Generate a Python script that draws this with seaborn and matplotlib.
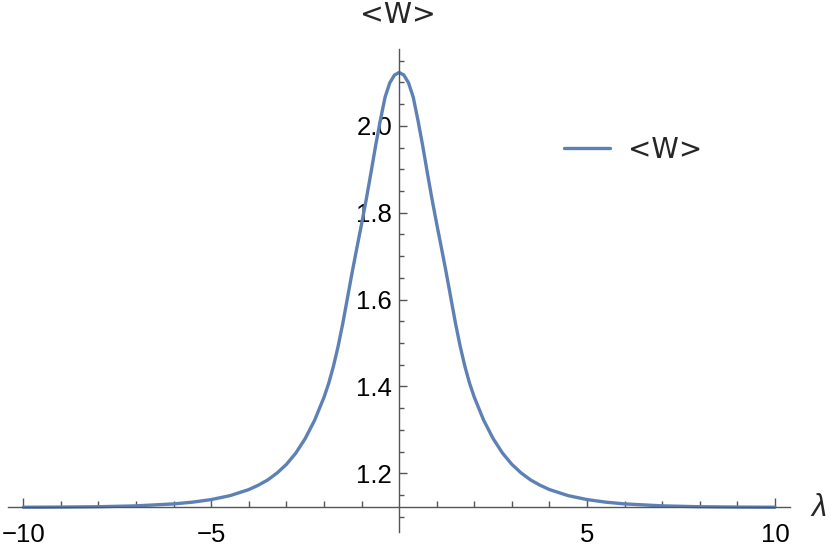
import matplotlib
matplotlib.use("Agg")
import matplotlib.pyplot as plt
from matplotlib.lines import Line2D
import seaborn as sns
import pandas as pd

# values (curve is symmetric about lambda = 0)
lam_half = [0, 0.125, 0.25, 0.375, 0.5, 0.625, 0.75, 0.875, 1.0, 1.125, 1.25,
            1.375, 1.5, 1.625, 1.75, 1.875, 2.0, 2.25, 2.5, 2.75, 3.0, 3.25,
            3.5, 3.75, 4.0, 4.5, 5.0, 5.5, 6.0, 7.0, 8.0, 9.0, 10.0]
w_half = [2.123, 2.117, 2.099, 2.066, 2.013, 1.955, 1.892, 1.831, 1.774, 1.719,
          1.663, 1.604, 1.545, 1.492, 1.446, 1.407, 1.375, 1.322, 1.280, 1.2465,
          1.2205, 1.2005, 1.1845, 1.1725, 1.1625, 1.1485, 1.1395, 1.1335, 1.1295,
          1.125, 1.123, 1.1222, 1.1218]

x_major = [-10, -5, 5, 10]
x_major_labels = ["\u221210", "\u22125", "5", "10"]
y_major = [1.2, 1.4, 1.6, 1.8, 2.0]
y_major_labels = ["1.2", "1.4", "1.6", "1.8", "2.0"]
series_name = "<W>"
x_label = "\u03bb"
y_label = "<W>"

lam = [-v for v in lam_half[::-1]] + lam_half[1:]
w = w_half[::-1] + w_half[1:]
df = pd.DataFrame({"lam": lam, "W": w, "series": series_name})

sns.set_style("white")
plt.rcParams["font.family"] = ["Liberation Sans", "DejaVu Sans"]

fig = plt.figure(figsize=(8.3, 5.46), dpi=100)
ax = fig.add_axes([8.3 / 830, 1 - 531.7 / 546, 781.7 / 830, (531.7 - 49) / 546])

color = "#5E81B5"
sns.lineplot(data=df, x="lam", y="W", hue="series", palette=[color],
             linewidth=2.4, ax=ax, sort=False, legend=False)

ax.set_xlim(-10.4, 10.4)
ax.set_ylim(1.0655, 2.177)

axis_col = "#555555"
for s in ["top", "right"]:
    ax.spines[s].set_visible(False)
ax.spines["left"].set_position(("data", 0))
ax.spines["bottom"].set_position(("data", 1.1216))
for s in ["left", "bottom"]:
    ax.spines[s].set_color(axis_col)
    ax.spines[s].set_linewidth(1.0)

ax.set_xticks(x_major)
ax.set_xticklabels(x_major_labels)
ax.set_xticks([v for v in range(-10, 11) if v not in (-10, -5, 0, 5, 10)], minor=True)
ax.set_yticks(y_major)
ax.set_yticklabels(y_major_labels)
ax.set_yticks([1.1, 1.15, 1.25, 1.3, 1.35, 1.45, 1.5, 1.55, 1.65, 1.7, 1.75,
               1.85, 1.9, 1.95, 2.05, 2.1, 2.15], minor=True)

ax.tick_params(axis="both", which="both", bottom=True, left=True, top=False,
               right=False)
ax.tick_params(axis="x", which="major", direction="in", length=6.5, width=1.0,
               color=axis_col, labelsize=18.5, pad=11, labelcolor="black")
ax.tick_params(axis="x", which="minor", direction="in", length=4.3, width=1.0,
               color=axis_col)
ax.tick_params(axis="y", which="major", direction="in", length=6.0, width=1.0,
               color=axis_col, labelsize=18.5, pad=5, labelcolor="black")
ax.tick_params(axis="y", which="minor", direction="in", length=3.8, width=1.0,
               color=axis_col)
ax.set_xlabel("")
ax.set_ylabel("")
ax.grid(False)

fig.text(398 / 830, 1 - 15 / 546, y_label, ha="center", va="center", fontsize=20.5,
         family=["DejaVu Sans"])
fig.text(811 / 830, 1 - 508 / 546, x_label, ha="left", va="center", fontsize=22,
         style="italic")

handle = Line2D([], [], color=color, linewidth=2.4)
leg = fig.legend([handle], [series_name], loc="center left",
                 bbox_to_anchor=(564 / 830, 1 - 150 / 546), frameon=False,
                 prop={"family": ["DejaVu Sans"], "size": 20},
                 handlelength=1.65, handletextpad=0.65,
                 borderpad=0, borderaxespad=0)

fig.savefig("out.png", dpi=100)
